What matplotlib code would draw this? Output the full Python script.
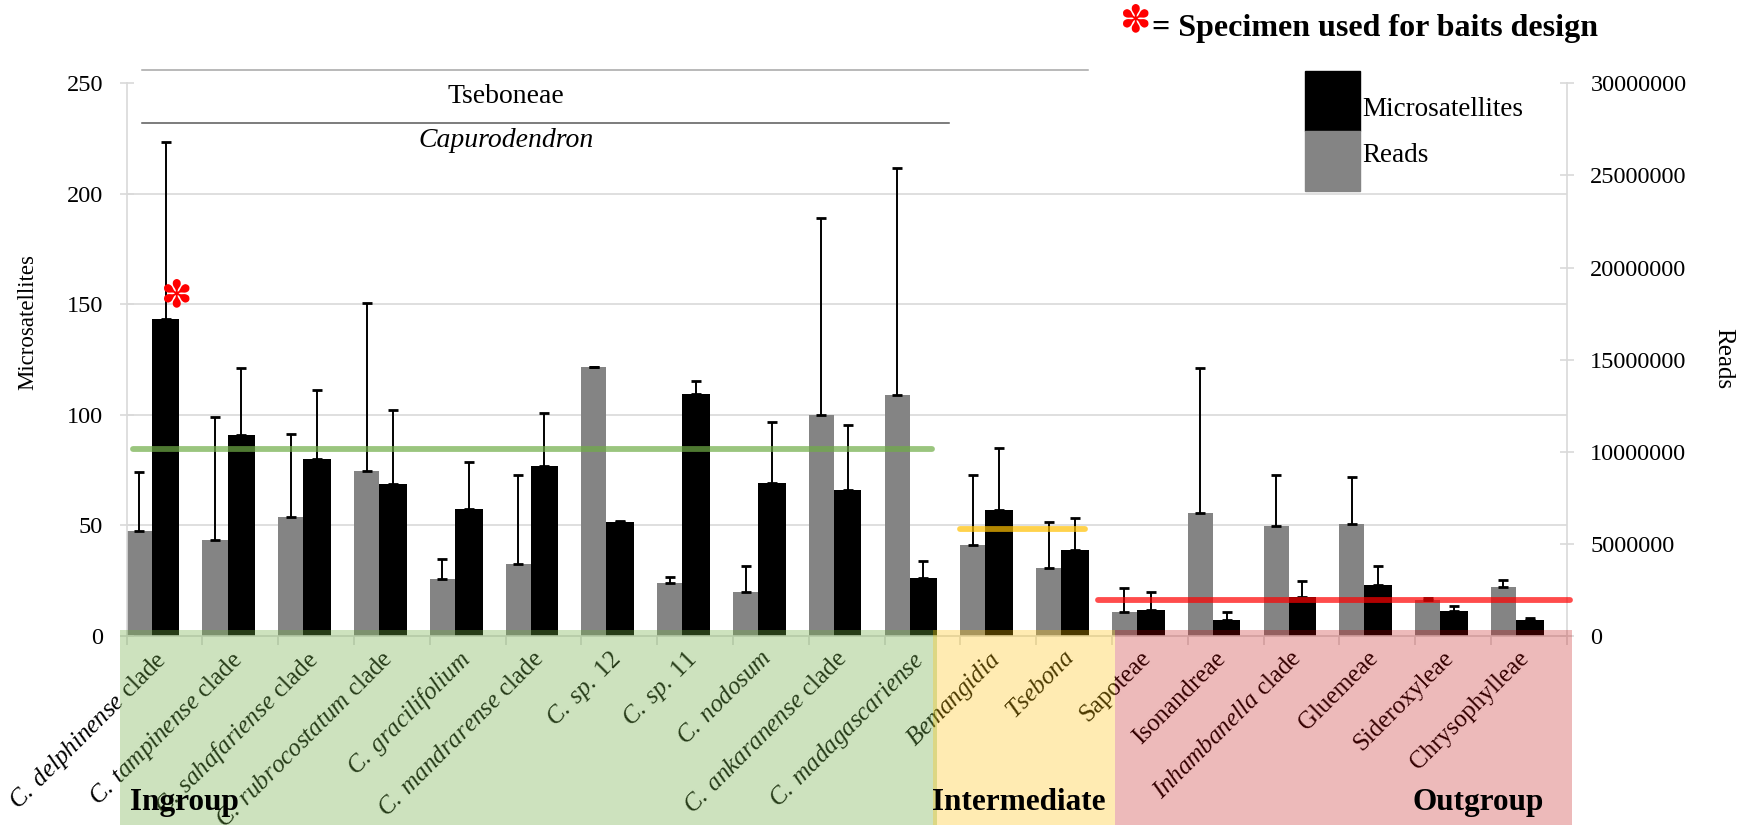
import matplotlib.pyplot as plt
import numpy as np
from matplotlib.patches import Rectangle

plt.rcParams['font.family'] = ['Liberation Serif', 'DejaVu Sans']
plt.rcParams['mathtext.fontset'] = 'custom'
plt.rcParams['mathtext.rm'] = 'Liberation Serif'
plt.rcParams['mathtext.it'] = 'Liberation Serif:italic'

# taxa (italic parts in mathtext)
taxa = [r'$\mathit{C.\;delphinense}$ clade', r'$\mathit{C.\;tampinense}$ clade',
        r'$\mathit{C.\;sahafariense}$ clade', r'$\mathit{C.\;rubrocostatum}$ clade',
        r'$\mathit{C.\;gracilifolium}$', r'$\mathit{C.\;mandrarense}$ clade',
        r'$\mathit{C.\;sp.\;12}$', r'$\mathit{C.\;sp.\;11}$', r'$\mathit{C.\;nodosum}$',
        r'$\mathit{C.\;ankaranense}$ clade', r'$\mathit{C.\;madagascariense}$',
        r'$\mathit{Bemangidia}$', r'$\mathit{Tsebona}$', 'Sapoteae', 'Isonandreae',
        r'$\mathit{Inhambanella}$ clade', 'Gluemeae', 'Sideroxyleae', 'Chrysophylleae']

# microsatellites (left axis)
micro = [143.5, 90.8, 80.0, 68.8, 57.5, 77.1, 51.7, 109.5, 69.1, 66.1, 26.4,
         56.8, 38.9, 11.6, 7.1, 17.6, 23.0, 11.1, 7.1]
micro_err = [79.8, 30.4, 31.4, 33.5, 21.1, 23.8, 0.4, 5.7, 27.7, 29.4, 7.5,
             28.3, 14.6, 8.4, 3.7, 7.2, 8.6, 2.5, 0.9]

# reads (right axis)
reads = [5720000, 5210000, 6470000, 8960000, 3070000, 3890000, 14580000, 2890000,
         2390000, 12000000, 13080000, 4930000, 3680000, 1320000, 6650000, 5960000,
         6070000, 1960000, 2680000]
reads_err = [3180000, 6680000, 4500000, 9140000, 1120000, 4870000, 30000, 310000,
             1400000, 10690000, 12320000, 3830000, 2500000, 1300000, 7900000, 2800000,
             2540000, 80000, 350000]

# group means of microsatellites
group_mean = [84.6, 48.4, 16.2]
mean_colors = ['#70ad47', '#ffc000', '#ff0000']
mean_span = [(0.08, 10.62), (11.0, 12.65), (12.82, 19.05)]

left_ticks = [0, 50, 100, 150, 200, 250]
right_ticks = [0, 5000000, 10000000, 15000000, 20000000, 25000000, 30000000]

grid_c = '#d9d9d9'
star = '\u273d'
x = np.arange(len(taxa))

fig = plt.figure(figsize=(17.46, 8.25), dpi=100)
ax = fig.add_axes([0.07257, 0.22909, 0.82474, 0.66994])
ax2 = ax.twinx()
ax.set_zorder(2)
ax.patch.set_visible(False)
ax2.set_zorder(1)

ax.set_xlim(0, len(taxa))
ax.set_ylim(0, 250)
ax2.set_ylim(0, 30000000)

# grid behind the grey bars
scale = 30000000 / 250
for v in left_ticks[1:-1]:
    ax2.axhline(v * scale, color=grid_c, lw=1.2, zorder=0)

# reads bars
ax2.bar(x, reads, width=0.33, align='edge', color='#848484', zorder=2)
ax2.errorbar(x + 0.165, reads, yerr=[np.zeros(len(x)), reads_err], fmt='none',
             ecolor='black', elinewidth=1.4, capsize=3.6, capthick=2, zorder=3)

# microsatellite bars
ax.bar(x + 0.33, micro, width=0.365, align='edge', color='black', zorder=2)
ax.errorbar(x + 0.5125, micro, yerr=[np.zeros(len(x)), micro_err], fmt='none',
            ecolor='black', elinewidth=1.4, capsize=3.6, capthick=2, zorder=3)

for m, c, (x0, x1) in zip(group_mean, mean_colors, mean_span):
    ax.plot([x0, x1], [m, m], color=c, alpha=0.7, lw=4.2, solid_capstyle='round',
            zorder=4, clip_on=False)

# specimen marker
ax.text(0.645, 153.8, star, color='red', fontsize=27, ha='center', va='center',
        family='DejaVu Sans', zorder=5)

# clade brackets
ax.plot([0.2, 12.68], [256, 256], color='#a6a6a6', lw=1.1, clip_on=False)
ax.plot([0.2, 10.85], [231.9, 231.9], color='#595959', lw=1.1, clip_on=False)
ax.text(5.0, 240.9, 'Tseboneae', fontsize=20, ha='center', va='baseline')
ax.text(5.0, 221.3, 'Capurodendron', fontsize=20, style='italic', ha='center',
        va='baseline')

# spines and ticks
for s in ['top', 'right']:
    ax.spines[s].set_visible(False)
for s in ['top', 'left', 'bottom']:
    ax2.spines[s].set_visible(False)
ax.spines['left'].set_color(grid_c)
ax.spines['bottom'].set_color(grid_c)
ax2.spines['right'].set_color(grid_c)
for sp in [ax.spines['left'], ax.spines['bottom'], ax2.spines['right']]:
    sp.set_linewidth(1.2)

ax.set_yticks(left_ticks)
ax.set_yticklabels([str(v) for v in left_ticks])
ax2.set_yticks(right_ticks)
ax2.set_yticklabels([str(v) for v in right_ticks])
ax.tick_params(axis='y', direction='inout', length=10, width=1.2, color=grid_c,
               labelsize=17.5, pad=12)
ax2.tick_params(axis='y', direction='inout', length=10, width=1.2, color=grid_c,
                labelsize=17.5, pad=12)

ax.set_xticks(x + 0.36)
ax.set_xticklabels(taxa, rotation=45, ha='right', va='top', rotation_mode='anchor',
                   fontsize=18)
ax.set_xticks(np.arange(len(taxa) + 1), minor=True)
ax.tick_params(axis='x', which='major', length=0, pad=8)
ax.tick_params(axis='x', which='minor', direction='out', length=6.5, width=1.2,
               color=grid_c)

# axis titles
fig.text(28 / 1746, 0.61, 'Microsatellites', rotation=90, ha='center', va='center',
         fontsize=16.5)
fig.text(1723 / 1746, 0.5655, 'Reads', rotation=270, ha='center', va='center',
         fontsize=18)

# legend
fig.patches.append(Rectangle((0.7474, 0.8412), 0.0315, 0.0727, color='black',
                             transform=fig.transFigure, figure=fig))
fig.patches.append(Rectangle((0.7474, 0.7685), 0.0315, 0.0727, color='#848484',
                             transform=fig.transFigure, figure=fig))
fig.text(0.7805, 0.8667, 'Microsatellites', fontsize=19.5, va='center')
fig.text(0.7805, 0.8121, 'Reads', fontsize=19.5, va='center')

# title note
fig.text(1134.5 / 1746, 1 - 21 / 825, star, color='red', fontsize=27,
         ha='center', va='center', family='DejaVu Sans')
fig.text(0.6596, 0.9564, '= Specimen used for baits design', fontsize=23,
         weight='bold', va='baseline')

# group shading
bands = [(0.0687, 0.5367, '#70ad47', 0.35), (0.5344, 0.6386, '#ffc000', 0.3),
         (0.6386, 0.9003, '#c00000', 0.27)]
for x0, x1, c, a in bands:
    fig.patches.append(Rectangle((x0, 0), x1 - x0, 0.2364, facecolor=c, alpha=a,
                                 edgecolor='none', transform=fig.transFigure,
                                 figure=fig, zorder=10))

fig.text(0.0745, 0.018, 'Ingroup', fontsize=22.5, weight='bold', va='baseline',
         zorder=11)
fig.text(0.5338, 0.018, 'Intermediate', fontsize=22.5, weight='bold', va='baseline',
         zorder=11)
fig.text(0.8843, 0.018, 'Outgroup', fontsize=22.5, weight='bold', va='baseline',
         ha='right', zorder=11)

fig.savefig('out.png', dpi=100)
